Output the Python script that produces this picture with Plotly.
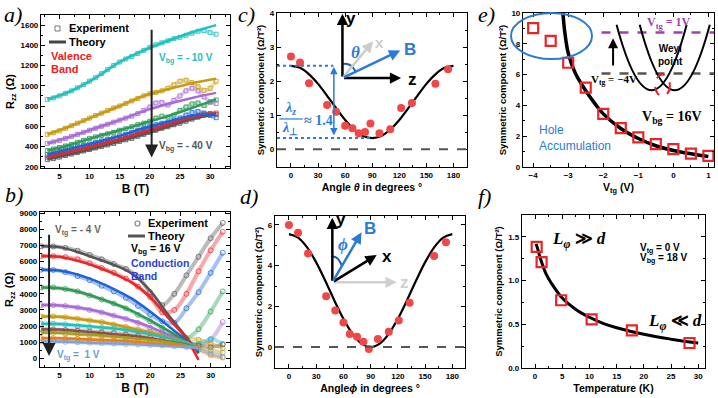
import plotly.graph_objects as go

SANS = 'Liberation Sans, Arial, sans-serif'
SERIF = 'Liberation Serif, Times New Roman, serif'

# ---------------- a) Rzz vs B, valence band, Vbg = -40 ... -10 V
a_b_exp = list(range(3, 32))
a_b_thy = [3, 7, 11, 15, 19, 23, 27, 31]
a_colors = ['#555555', '#e8262a', '#1f63d6', '#2e9a55', '#a86ad8', '#c89a10', '#20c0c0']
a_exp_m40 = [270, 280, 295, 310, 325, 340, 355, 370, 385, 400, 415, 430, 450, 465, 480, 500, 520, 540, 560, 580, 595, 615, 630, 650, 670, 690, 710, 720, 715]
a_exp_m35 = [295, 305, 320, 335, 350, 365, 380, 395, 410, 425, 440, 455, 470, 490, 505, 525, 545, 565, 580, 600, 615, 630, 650, 670, 690, 710, 720, 725, 730]
a_exp_m30 = [320, 335, 350, 365, 380, 395, 410, 425, 440, 455, 470, 485, 505, 520, 540, 560, 580, 600, 615, 630, 640, 660, 680, 710, 735, 745, 730, 705, 685]
a_exp_m25 = [360, 375, 390, 405, 420, 440, 460, 480, 495, 510, 525, 540, 560, 575, 595, 615, 630, 650, 680, 700, 690, 710, 755, 790, 820, 830, 805, 840, 860]
a_exp_m20 = [430, 445, 460, 480, 500, 520, 540, 560, 580, 600, 620, 640, 660, 680, 700, 725, 755, 790, 830, 835, 810, 855, 900, 950, 975, 950, 890, 840, 825]
a_exp_m15 = [520, 535, 555, 580, 605, 630, 655, 680, 705, 730, 755, 780, 800, 825, 850, 875, 900, 920, 935, 950, 975, 1010, 1045, 1055, 1030, 990, 955, 975, 1045]
a_exp_m10 = [865, 880, 900, 925, 950, 980, 1010, 1045, 1080, 1120, 1160, 1200, 1235, 1265, 1290, 1320, 1350, 1380, 1405, 1425, 1445, 1465, 1480, 1500, 1520, 1540, 1545, 1525, 1510]
a_thy_m40 = [272, 325, 385, 450, 520, 595, 670, 720]
a_thy_m35 = [295, 350, 410, 472, 545, 615, 690, 728]
a_thy_m30 = [320, 380, 440, 505, 580, 645, 705, 722]
a_thy_m25 = [360, 420, 495, 560, 630, 700, 780, 865]
a_thy_m20 = [430, 500, 580, 660, 750, 820, 880, 930]
a_thy_m15 = [520, 605, 705, 800, 900, 965, 1025, 1070]
a_thy_m10 = [865, 950, 1080, 1235, 1350, 1445, 1530, 1600]

# ---------------- b) Rzz vs B, conduction band, Vtg = -4 ... 1 V
b_b_exp = list(range(2, 33, 2))
b_b_thy = [2, 5, 8, 11, 14, 17, 20, 23, 26, 28]
b_colors = ['#555555', '#e8262a', '#1f63d6', '#2e9a55', '#a86ad8', '#c89a10', '#20c0c0',
            '#8a5048', '#a0a020', '#f07a10', '#7da2d8']
b_exp_m40 = [6950, 6940, 6850, 6680, 6420, 6150, 5850, 5550, 5050, 4100, 3300, 4000, 5150, 6300, 7450, 8400]
b_exp_m35 = [6350, 6340, 6280, 6150, 5900, 5600, 5300, 4950, 4450, 3800, 2850, 3000, 4000, 5400, 6700, 7850]
b_exp_m30 = [5500, 5480, 5350, 5100, 4850, 4500, 4150, 3750, 3250, 2700, 2300, 2200, 3100, 4100, 5300, 6550]
b_exp_m25 = [4400, 4400, 4300, 4150, 3900, 3650, 3400, 3100, 2700, 2300, 1900, 1500, 1250, 1800, 2900, 4150]
b_exp_m20 = [3300, 3300, 3250, 3150, 3000, 2850, 2650, 2450, 2200, 1900, 1600, 1250, 950, 800, 1150, 2250]
b_exp_m15 = [2600, 2600, 2550, 2450, 2350, 2250, 2100, 1950, 1800, 1650, 1500, 1350, 1250, 1150, 900, 650]
b_exp_m10 = [2150, 2150, 2100, 2000, 1950, 1900, 1850, 1750, 1650, 1550, 1400, 1250, 1050, 900, 1200, 900]
b_exp_m05 = [1800, 1790, 1760, 1720, 1660, 1610, 1560, 1480, 1400, 1300, 1200, 1080, 950, 800, 700, 850]
b_exp_p00 = [1600, 1580, 1540, 1500, 1440, 1400, 1340, 1280, 1200, 1130, 1050, 960, 880, 700, 500, 350]
b_exp_p05 = [1250, 1240, 1220, 1200, 1160, 1130, 1100, 1060, 1000, 960, 900, 850, 780, 550, 200, 50]
b_exp_p10 = [1050, 1040, 1020, 990, 960, 940, 910, 880, 850, 820, 790, 750, 700, 550, 300, 100]
b_thy_m40 = [6950, 6900, 6600, 6200, 5800, 5250, 4200, 2700, 1300, 300]
b_thy_m35 = [6350, 6300, 6050, 5700, 5250, 4700, 3800, 2500, 1200, -100]
b_thy_m30 = [5500, 5450, 5200, 4800, 4300, 3700, 2900, 2000, 1100, 400]
b_thy_m25 = [4400, 4350, 4150, 3800, 3400, 2950, 2350, 1700, 1000, 500]
b_thy_m20 = [3300, 3280, 3150, 2950, 2650, 2350, 1950, 1450, 950, 550]
b_thy_m15 = [2600, 2580, 2450, 2300, 2100, 1850, 1600, 1300, 1000, 600]
b_thy_m10 = [2150, 2130, 2050, 1950, 1850, 1700, 1500, 1250, 950, 600]
b_thy_m05 = [1800, 1780, 1700, 1600, 1500, 1400, 1250, 1050, 850, 600]
b_thy_p00 = [1600, 1580, 1500, 1450, 1350, 1250, 1150, 1000, 800, 600]
b_thy_p05 = [1250, 1240, 1200, 1150, 1100, 1050, 950, 850, 750, 650]
b_thy_p10 = [1050, 1040, 1000, 950, 920, 880, 830, 770, 700, 650]

# ---------------- c) symmetric component vs theta
c_angle = [0, 10, 20, 40, 50, 60, 68, 75, 82, 88, 98, 110, 122, 134, 160, 174]
c_value = [2.72, 2.55, 1.94, 1.30, 1.10, 0.69, 0.62, 0.47, 0.51, 0.76, 0.47, 0.59, 1.21, 1.36, 1.92, 2.35]
c_fit_angle = list(range(0, 181, 10))
c_fit_value = [2.45, 2.39, 2.20, 1.92, 1.57, 1.21, 0.86, 0.58, 0.39, 0.33,
               0.39, 0.58, 0.86, 1.21, 1.57, 1.92, 2.20, 2.39, 2.45]

# ---------------- d) symmetric component vs phi
d_angle = [0, 10, 21, 41, 51, 60, 67, 75, 82, 88, 98, 110, 121, 133, 160, 173]
d_value = [6.00, 5.62, 4.60, 2.50, 1.79, 1.20, 0.64, 0.51, 0.26, -0.10, 0.39, 0.75, 1.30, 2.18, 4.48, 5.15]
d_fit_angle = list(range(0, 181, 10))
d_fit_value = [5.55, 5.38, 4.90, 4.16, 3.26, 2.29, 1.39, 0.65, 0.17, 0.00,
               0.17, 0.65, 1.39, 2.29, 3.26, 4.16, 4.90, 5.38, 5.55]

# ---------------- e) symmetric component vs Vtg
e_vtg = [-4, -3.5, -3, -2.5, -2, -1.5, -1, -0.5, 0, 0.5, 1]
e_value = [9.02, 8.19, 6.77, 5.15, 3.45, 2.53, 1.92, 1.48, 1.16, 0.87, 0.72]
e_fit_vtg = [-3.15, -3.1, -3.0, -2.8, -2.5, -2.2, -2.0, -1.5, -1.0, -0.5, 0, 0.5, 1.0]
e_fit_value = [10.0, 8.8, 7.4, 6.1, 4.95, 4.0, 3.45, 2.5, 1.85, 1.38, 1.07, 0.86, 0.68]

# ---------------- f) symmetric component vs temperature
f_temp = [0.3, 1.2, 4.8, 10.4, 17.8, 28.4]
f_value = [1.385, 1.21, 0.775, 0.557, 0.43, 0.286]
f_fit_temp = [0.2, 0.5, 1, 2, 3, 5, 7.5, 10, 12.5, 15, 20, 25, 30]
f_fit_value = [1.42, 1.36, 1.25, 1.08, 0.97, 0.80, 0.67, 0.58, 0.51, 0.46, 0.385, 0.33, 0.285]


def rgba(hex_color, alpha):
    h = hex_color.lstrip('#')
    return 'rgba(%d,%d,%d,%.2f)' % (int(h[0:2], 16), int(h[2:4], 16), int(h[4:6], 16), alpha)


fig = go.Figure()

# a)
a_exp = [a_exp_m40, a_exp_m35, a_exp_m30, a_exp_m25, a_exp_m20, a_exp_m15, a_exp_m10]
a_thy = [a_thy_m40, a_thy_m35, a_thy_m30, a_thy_m25, a_thy_m20, a_thy_m15, a_thy_m10]
for col, ex in zip(a_colors, a_exp):
    fig.add_trace(go.Scatter(x=a_b_exp, y=ex, mode='lines+markers', showlegend=False,
                             line=dict(color=rgba(col, 0.35), width=4, shape='spline'),
                             marker=dict(symbol='square-open', size=4, color=rgba(col, 0.8), line=dict(width=1)),
                             xaxis='x', yaxis='y'))
for col, th in zip(a_colors, a_thy):
    fig.add_trace(go.Scatter(x=a_b_thy, y=th, mode='lines', showlegend=False,
                             line=dict(color=col, width=2.5, shape='spline'), xaxis='x', yaxis='y'))

# b)
b_exp = [b_exp_m40, b_exp_m35, b_exp_m30, b_exp_m25, b_exp_m20, b_exp_m15, b_exp_m10,
         b_exp_m05, b_exp_p00, b_exp_p05, b_exp_p10]
b_thy = [b_thy_m40, b_thy_m35, b_thy_m30, b_thy_m25, b_thy_m20, b_thy_m15, b_thy_m10,
         b_thy_m05, b_thy_p00, b_thy_p05, b_thy_p10]
for col, ex in zip(b_colors, b_exp):
    fig.add_trace(go.Scatter(x=b_b_exp, y=ex, mode='lines+markers', showlegend=False,
                             line=dict(color=rgba(col, 0.4), width=4, shape='spline'),
                             marker=dict(symbol='circle-open', size=5, color=rgba(col, 0.7)),
                             xaxis='x2', yaxis='y2'))
for col, th in zip(b_colors, b_thy):
    fig.add_trace(go.Scatter(x=b_b_thy, y=th, mode='lines', showlegend=False,
                             line=dict(color=col, width=2.5, shape='spline'), xaxis='x2', yaxis='y2'))

# c), d)
for ang, val, fa, fv, ax in [(c_angle, c_value, c_fit_angle, c_fit_value, '3'),
                             (d_angle, d_value, d_fit_angle, d_fit_value, '4')]:
    fig.add_trace(go.Scatter(x=fa, y=fv, mode='lines', showlegend=False,
                             line=dict(color='black', width=2.2, shape='spline'),
                             xaxis='x' + ax, yaxis='y' + ax))
    fig.add_trace(go.Scatter(x=ang, y=val, mode='markers', showlegend=False,
                             marker=dict(symbol='circle', size=8, color='#f04848'),
                             xaxis='x' + ax, yaxis='y' + ax))

# e)
fig.add_trace(go.Scatter(x=e_fit_vtg, y=e_fit_value, mode='lines', showlegend=False,
                         line=dict(color='black', width=3.5, shape='spline'), xaxis='x5', yaxis='y5'))
fig.add_trace(go.Scatter(x=e_vtg, y=e_value, mode='markers', showlegend=False,
                         marker=dict(symbol='square-open', size=10, color='#e8262a', line=dict(width=2.2)),
                         xaxis='x5', yaxis='y5'))

# f)
fig.add_trace(go.Scatter(x=f_fit_temp, y=f_fit_value, mode='lines', showlegend=False,
                         line=dict(color='black', width=3, shape='spline'), xaxis='x6', yaxis='y6'))
fig.add_trace(go.Scatter(x=f_temp, y=f_value, mode='markers', showlegend=False,
                         marker=dict(symbol='square-open', size=10, color='#e8262a', line=dict(width=2.2)),
                         xaxis='x6', yaxis='y6'))


def axes(dx, dy, rx, ry, tx, ty, title_x, title_y, anchor, fmt='', ts=10):
    common = dict(showline=True, linecolor='black', linewidth=1.2, mirror='ticks', ticks='inside',
                  ticklen=4, tickwidth=1, tickcolor='black', showgrid=False, zeroline=False,
                  automargin=False,
                  tickfont=dict(family=SANS, size=8, color='black', weight='bold'))
    xa = dict(domain=dx, range=rx, dtick=tx, anchor='y' + anchor,
              title=dict(text=title_x, font=dict(family=SANS, size=ts + 1, color='black', weight='bold'), standoff=4),
              minor=dict(ticks='inside', ticklen=2, dtick=tx / 2, tickcolor='black'), **common)
    ya = dict(domain=dy, range=ry, dtick=ty, anchor='x' + anchor, tickformat=fmt,
              title=dict(text=title_y, font=dict(family=SANS, size=ts, color='black', weight='bold'), standoff=3),
              minor=dict(ticks='inside', ticklen=2, dtick=ty / 2, tickcolor='black'), **common)
    return xa, ya


W, H = 718, 398


def px_x(p):
    return p / W


def px_y(p):
    return 1 - p / H


sym = 'Symmetric component (Ω/T²)'
xa1, ya1 = axes([px_x(41), px_x(230)], [px_y(168), px_y(15)], [1.95, 33.3], [187, 1700], 5, 200,
                'B (T)', 'R<sub>zz</sub> (Ω)', '', ts=11)
xa2, ya2 = axes([px_x(40), px_x(230)], [px_y(367), px_y(212)], [1.8, 33.2], [-540, 9080], 5, 1000,
                'B (T)', 'R<sub>zz</sub> (Ω)', '2', ts=11)
xa3, ya3 = axes([px_x(277), px_x(467)], [px_y(167), px_y(13)], [-15.5, 195], [-0.52, 4.0], 30, 1,
                'Angle <i>θ</i> in degrees °', sym, '3', ts=9.5)
xa4, ya4 = axes([px_x(275), px_x(465)], [px_y(368), px_y(216)], [-15.4, 194], [-1.03, 6.44], 30, 2,
                'Angle<i>ϕ</i> in degrees °', sym, '4', ts=9.5)
xa5, ya5 = axes([px_x(523), px_x(714)], [px_y(167), px_y(13)], [-4.29, 1.16], [0, 10], 1, 2,
                'V<sub>tg</sub> (V)', sym, '5', ts=9.5)
xa6, ya6 = axes([px_x(522), px_x(705)], [px_y(368), px_y(215)], [-2.4, 31.25], [0, 1.75], 5, 0.5,
                'Temperature (K)', sym, '6', fmt='.1f', ts=9.5)


def note(text, x, y, ref, size=10, color='black', family=SANS, **kw):
    return dict(text=text, x=x, y=y, xref='x' + ref, yref='y' + ref, showarrow=False,
                font=dict(family=family, size=size, color=color), **kw)


def pnote(text, x, y, size=11, color='black', family=SANS, **kw):
    return dict(text=text, x=px_x(x), y=px_y(y), xref='paper', yref='paper', showarrow=False,
                xanchor='left', yanchor='middle', font=dict(family=family, size=size, color=color), **kw)


def arrow(x0, y0, x1, y1, ref, color='black', width=2, size=1.0, side='end'):
    return dict(text='', x=x1, y=y1, ax=x0, ay=y0, xref='x' + ref, yref='y' + ref,
                axref='x' + ref, ayref='y' + ref, showarrow=True, arrowhead=2, arrowsize=size,
                arrowwidth=width, arrowcolor=color, arrowside=side)


BLUE = '#2a7bd6'
ann = []
# panel labels
for lab, x, y in [('a)', 2, 0), ('b)', 3, 180), ('c)', 236, 0), ('d)', 238, 182), ('e)', 476, 0), ('f)', 476, 182)]:
    ann.append(dict(text='<i>%s</i>' % lab, x=px_x(x), y=px_y(y), xref='paper', yref='paper',
                    xanchor='left', yanchor='top', showarrow=False,
                    font=dict(family=SERIF, size=22, color='black')))
# legend keys (drawn by hand, Origin style)
ann += [pnote('<b>Experiment</b>', 67, 28), pnote('<b>Theory</b>', 67, 42),
        pnote('<b>Experiment</b>', 146, 223), pnote('<b>Theory</b>', 146, 236)]
# a)
ann += [arrow(20.3, 1570, 20.3, 290, '', color='#222222', width=2, size=1.3),
        note('<b>V<sub>bg</sub> = - 10 V</b>', 26, 1270, '', color='#20c0c0'),
        note('<b>V<sub>bg</sub> = - 40 V</b>', 26, 400, '', color='#555555'),
        pnote('<b>Valence</b>', 49, 56, color='#f02020'),
        pnote('<b>Band</b>', 49, 69, color='#f02020')]
# b)
ann += [arrow(3.3, 7760, 3.3, 150, '2', color='#222222', width=2, size=1.3),
        note('<b>V<sub>tg</sub> = - 4 V</b>', 8.1, 7960, '2', color='#666666'),
        note('<b>V<sub>tg</sub> =  1 V</b>', 8.1, 180, '2', color='#6f9ad8'),
        pnote('<b>V<sub>bg</sub> = 16 V</b>', 129, 249, size=10.5),
        pnote('<b>Conduction</b>', 129, 263, size=10.5, color='#2a3fe0'),
        pnote('<b>Band</b>', 129, 276, size=10.5, color='#2a3fe0')]
# c)
ann += [arrow(57, 2.09, 57, 3.98, '3', width=2.5, size=0.9),
        arrow(57, 2.09, 122, 2.09, '3', width=2.5, size=0.9),
        arrow(57, 2.09, 91, 3.17, '3', color='#cccccc', width=2.5, size=0.9),
        arrow(57, 2.09, 121, 2.9, '3', color=BLUE, width=2.5, size=0.9),
        note('<b>y</b>', 67, 3.85, '3', size=17),
        note('<b>z</b>', 135, 2.06, '3', size=17),
        note('<b>x</b>', 97.5, 3.12, '3', size=15, color='#cccccc'),
        note('<b>B</b>', 132, 2.92, '3', size=17, color=BLUE),
        note('<b><i>θ</i></b>', 71, 2.83, '3', size=17, color=BLUE, family=SERIF),
        arrow(47.5, 0.36, 47.5, 2.42, '3', color=BLUE, width=1.5, size=1.0, side='end+start'),
        note('<b><i>λ<sub>z</sub></i></b>', -1, 1.2, '3', size=14, color=BLUE, family=SERIF),
        note('<b><i>λ</i><sub>⊥</sub></b>', -1, 0.6, '3', size=14, color=BLUE, family=SERIF),
        note('<b>≈ 1.4</b>', 30, 0.84, '3', size=14, color=BLUE, family=SERIF)]
# d)
ann += [arrow(47.8, 3.18, 47.8, 6.36, '4', width=2.5, size=0.9),
        arrow(47.8, 3.18, 118.8, 3.18, '4', color='#d0d0d0', width=2.5, size=0.9),
        arrow(47.8, 3.18, 96.7, 4.52, '4', width=2.5, size=0.9),
        arrow(47.8, 3.18, 80, 5.64, '4', color=BLUE, width=2.5, size=0.9),
        note('<b>y</b>', 57.4, 6.25, '4', size=17),
        note('<b>B</b>', 89, 5.84, '4', size=17, color=BLUE),
        note('<b><i>ϕ</i></b>', 60, 5.05, '4', size=17, color=BLUE, family=SERIF),
        note('<b>x</b>', 108, 4.44, '4', size=17),
        note('<b>z</b>', 127, 3.18, '4', size=17, color='#d0d0d0')]
# e)
ann += [arrow(-1.72, 6.5, -1.72, 8.36, '5', width=2, size=1.0),
        note('<b>V<sub>tg</sub> = 1V</b>', -0.15, 9.35, '5', size=12, color='#a040b0', family=SERIF),
        note('<b>V<sub>tg</sub> = −4V</b>', -1.68, 5.63, '5', size=11, family=SERIF),
        note('<b>Weyl<br>point</b>', -0.09, 7.3, '5', size=10),
        note('<b>V<sub>bg</sub> = 16V</b>', -0.05, 3.2, '5', size=14, family=SERIF),
        note('Hole<br>Accumulation', -3.9, 1.87, '5', size=12, color=BLUE, xanchor='left', align='left')]
# f)
ann += [note('<b><i>L<sub>φ</sub></i> ≫ <i>d</i></b>', 8.0, 1.46, '6', size=17, family=SERIF),
        note('<b><i>L<sub>φ</sub></i> ≪ <i>d</i></b>', 25.8, 0.53, '6', size=17, family=SERIF),
        note('<b>V<sub>tg</sub> = 0 V</b>', 18.9, 1.37, '6', size=10, xanchor='left'),
        note('<b>V<sub>bg</sub> = 18 V</b>', 18.9, 1.25, '6', size=10, xanchor='left')]

shapes = [
    # legend keys
    dict(type='rect', xref='paper', yref='paper', x0=px_x(55), x1=px_x(60), y0=px_y(31), y1=px_y(26),
         line=dict(color='#777777', width=1)),
    dict(type='line', xref='paper', yref='paper', x0=px_x(49), x1=px_x(66), y0=px_y(42), y1=px_y(42),
         line=dict(color='#444444', width=3)),
    dict(type='circle', xref='paper', yref='paper', x0=px_x(135), x1=px_x(140), y0=px_y(226), y1=px_y(221),
         line=dict(color='#888888', width=1.2)),
    dict(type='line', xref='paper', yref='paper', x0=px_x(128), x1=px_x(145), y0=px_y(236), y1=px_y(236),
         line=dict(color='#555555', width=3)),
    # zero lines
    dict(type='line', xref='x3 domain', yref='y3', x0=0, x1=1, y0=0, y1=0,
         line=dict(color='#555555', width=2, dash='dash')),
    dict(type='line', xref='x4 domain', yref='y4', x0=0, x1=1, y0=0, y1=0,
         line=dict(color='#555555', width=2, dash='dash')),
    # c) lambda guides
    dict(type='line', xref='x3', yref='y3', x0=-15.5, x1=47, y0=2.45, y1=2.45,
         line=dict(color=BLUE, width=2, dash='dot')),
    dict(type='line', xref='x3', yref='y3', x0=-15.5, x1=90, y0=0.33, y1=0.33,
         line=dict(color=BLUE, width=2, dash='dot')),
    dict(type='line', xref='x3', yref='y3', x0=-13, x1=13, y0=0.89, y1=0.89,
         line=dict(color=BLUE, width=1.2)),
    dict(type='path', xref='x3', yref='y3', path='M 57,2.5 Q 66,2.56 71.7,2.28',
         line=dict(color='#1f5fa8', width=2)),
    dict(type='path', xref='x4', yref='y4', path='M 47.8,4.45 Q 54,4.47 58,4.02',
         line=dict(color='#1f5fa8', width=2)),
    # e) inset band sketch
    dict(type='line', xref='x5', yref='y5', x0=-2.05, x1=1.16, y0=8.73, y1=8.73,
         line=dict(color='#a040b0', width=2.5, dash='dash')),
    dict(type='line', xref='x5', yref='y5', x0=-2.05, x1=1.16, y0=6.07, y1=6.07,
         line=dict(color='#555555', width=2.5, dash='dash')),
    dict(type='path', xref='x5', yref='y5', path='M -1.62,9.23 Q -0.62,0.73 0.38,9.23',
         line=dict(color='black', width=2)),
    dict(type='path', xref='x5', yref='y5', path='M -0.96,9.23 Q 0.04,0.73 1.04,9.23',
         line=dict(color='black', width=2)),
    dict(type='circle', xref='x5', yref='y5', x0=-0.52, x1=-0.1, y0=4.6, y1=6.0,
         line=dict(color='#f02020', width=2, dash='dash')),
    dict(type='circle', xref='paper', yref='paper', x0=px_x(511), x1=px_x(592), y0=px_y(59), y1=px_y(13),
         line=dict(color=BLUE, width=2)),
]

fig.update_layout(
    width=W, height=H, margin=dict(l=0, r=0, t=0, b=0, autoexpand=False),
    paper_bgcolor='white', plot_bgcolor='white', showlegend=False,
    xaxis=xa1, yaxis=ya1, xaxis2=xa2, yaxis2=ya2, xaxis3=xa3, yaxis3=ya3,
    xaxis4=xa4, yaxis4=ya4, xaxis5=xa5, yaxis5=ya5, xaxis6=xa6, yaxis6=ya6,
    annotations=ann, shapes=shapes,
)

# the page's default body margin would shift the figure by 8 px
fig.write_html("out.html", config={'displayModeBar': False},
               post_script="document.body.style.margin='0';")
